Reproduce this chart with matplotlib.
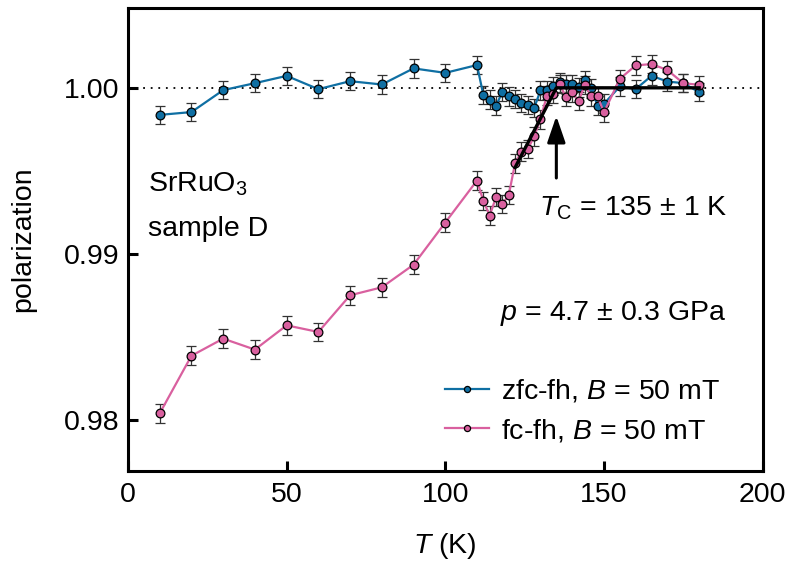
import numpy as np
import matplotlib.pyplot as plt

plt.rcParams['font.family'] = 'Liberation Sans'
plt.rcParams['mathtext.fontset'] = 'custom'
plt.rcParams['mathtext.rm'] = 'Liberation Sans'
plt.rcParams['mathtext.it'] = 'Liberation Sans:italic'

# Data
temp_low = [10, 20, 30, 40, 50, 60, 70, 80, 90, 100]
temp_dense = [110, 112, 114, 116, 118, 120, 122, 124, 126, 128, 130, 132, 134, 136,
              138, 140, 142, 144, 146, 148, 150]
temp_high = [155, 160, 165, 170, 175, 180]
temps = temp_low + temp_dense + temp_high

zfc = [0.99837, 0.99854, 0.99986, 1.00028, 1.00072, 0.99992, 1.00040, 1.00020, 1.00117, 1.00090,
       1.00137, 0.99956, 0.99928, 0.99892, 0.99976, 0.99948, 0.99932, 0.99908, 0.99896, 0.99878,
       0.99984, 0.99988, 1.00010, 1.00033, 1.00020, 1.00024, 1.00002, 1.00048, 0.99996, 0.99892,
       0.99904,
       1.00008, 0.99992, 1.00072, 1.00038, 1.00028, 0.99974]
fc = [0.98040, 0.98387, 0.98490, 0.98424, 0.98570, 0.98530, 0.98751, 0.98799, 0.98935, 0.99189,
      0.99442, 0.99319, 0.99231, 0.99342, 0.99301, 0.99354, 0.99546, 0.99616, 0.99631, 0.99707,
      0.99811, 0.99952, 0.99962, 1.00024, 0.99944, 0.99972, 0.99920, 1.00018, 0.99948, 0.99948,
      0.99852,
      1.00054, 1.00135, 1.00143, 1.00107, 1.00028, 1.00018]
err = 0.00056

# linear fit below Tc, constant above
fit_T = [122, 135, 180]
fit_P = [0.9952, 1.0, 1.0]
Tc = 135

blue = '#0f6fa3'
pink = '#d9609f'

fig, ax = plt.subplots(figsize=(7.9, 5.66), dpi=100)
fig.subplots_adjust(left=0.162, right=0.9653, top=0.986, bottom=0.1684)

ax.axhline(1.0, color='black', linestyle=(0, (1, 3.2)), linewidth=1.3, zorder=1)

eb1 = ax.errorbar(temps, zfc, yerr=err, fmt='-o', color=blue, lw=1.6, ms=6.3, mfc=blue, mec='black',
                  mew=0.9, ecolor='#333333', elinewidth=0.9, capsize=3.4, capthick=0.9, zorder=3)
eb2 = ax.errorbar(temps, fc, yerr=err, fmt='-o', color=pink, lw=1.6, ms=6.3, mfc=pink, mec='black',
                  mew=0.9, ecolor='#333333', elinewidth=0.9, capsize=3.4, capthick=0.9, zorder=3)

ax.plot(fit_T, fit_P, color='black', lw=2.4, zorder=5)

ax.annotate('', xy=(Tc, 0.99830), xytext=(Tc, 0.99457),
            arrowprops=dict(arrowstyle='-|>,head_length=1.6,head_width=0.55', color='black',
                            lw=2.2, shrinkA=0, shrinkB=0))

fs = 20.5
ax.text(188.8, 0.99232, r'$T_\mathrm{C}$ = 135 ± 1 K', ha='right', va='baseline', fontsize=20.5)
ax.text(188.8, 0.98605, r'$p$ = 4.7 ± 0.3 GPa', ha='right', va='baseline', fontsize=fs)
ax.text(6.4, 0.99376, r'SrRuO$_3$', ha='left', va='baseline', fontsize=fs)
ax.text(6.4, 0.99110, 'sample D', ha='left', va='baseline', fontsize=fs)

ax.set_xlim(0, 200)
ax.set_ylim(0.97695, 1.00481)
ax.set_xticks([0, 50, 100, 150, 200])
ax.set_yticks([0.98, 0.99, 1.00])
ax.set_yticklabels(['0.98', '0.99', '1.00'])
ax.set_xlabel(r'$T$ (K)', fontsize=fs, labelpad=17)
ax.set_ylabel('polarization', fontsize=fs, labelpad=20)

for s in ax.spines.values():
    s.set_linewidth(2.2)
ax.tick_params(direction='in', length=7, width=2.2, labelsize=fs)
ax.tick_params(axis='x', pad=8)
ax.tick_params(axis='y', pad=6)

ax.legend(handles=[eb1[0], eb2[0]],
          labels=[r'zfc-fh, $B$ = 50 mT', r'fc-fh, $B$ = 50 mT'],
          loc='lower right', bbox_to_anchor=(0.955, 0.026), frameon=False, fontsize=fs,
          handlelength=1.55, handletextpad=0.4, borderpad=0, labelspacing=0.45, markerscale=0.7)

plt.savefig('out.png', dpi=100)
